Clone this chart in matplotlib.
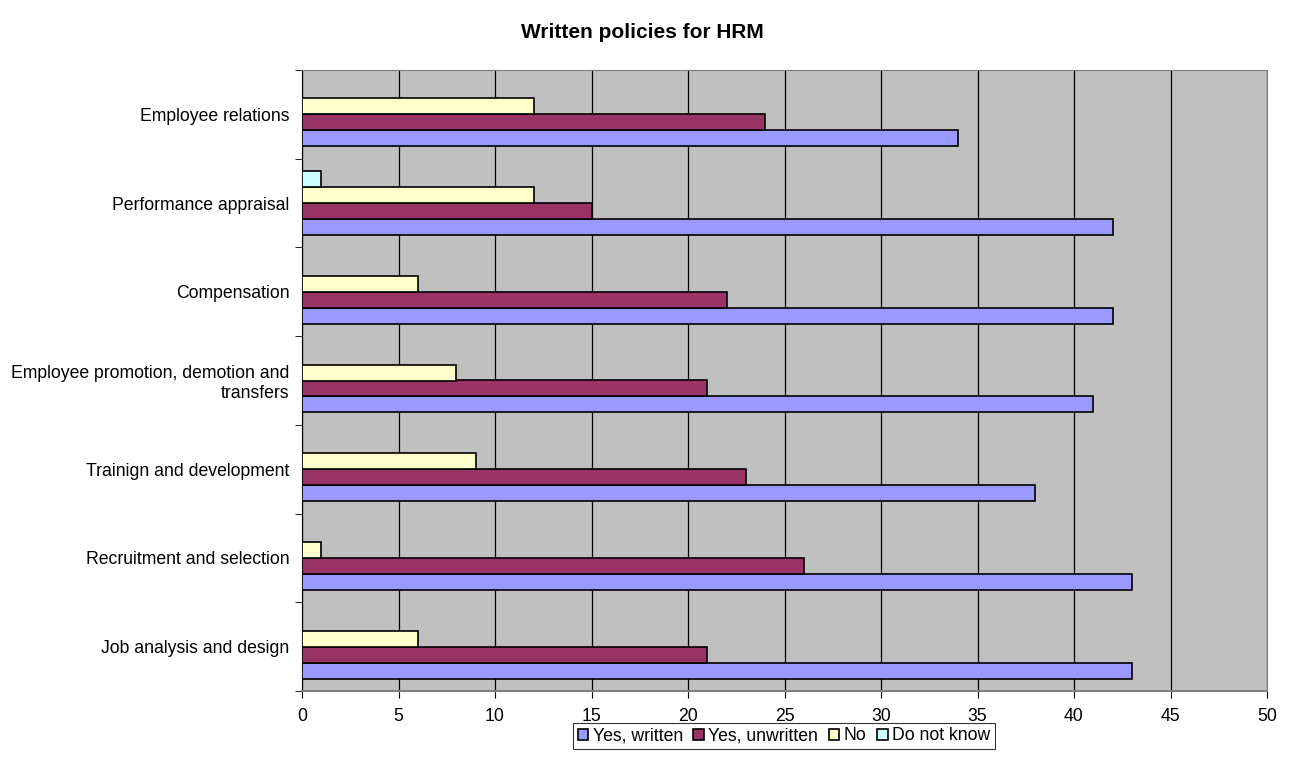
import numpy as np
import matplotlib
matplotlib.use('Agg')
import matplotlib.pyplot as plt

plt.rcParams['font.family'] = ['Liberation Sans', 'DejaVu Sans']

# categories listed bottom to top
categories = ['Job analysis and design', 'Recruitment and selection', 'Trainign and development',
              'Employee promotion, demotion and\ntransfers', 'Compensation',
              'Performance appraisal', 'Employee relations']
yes_written = [43, 43, 38, 41, 42, 42, 34]
yes_unwritten = [21, 26, 23, 21, 22, 15, 24]
no = [6, 1, 9, 8, 6, 12, 12]
do_not_know = [0, 0, 0, 0, 0, 1, 0]

series = [('Yes, written', yes_written, '#9999FF'),
          ('Yes, unwritten', yes_unwritten, '#993366'),
          ('No', no, '#FFFFCC'),
          ('Do not know', do_not_know, '#CCFFFF')]

fs = 12.7

fig = plt.figure(figsize=(12.9, 7.74), dpi=100)
ax = fig.add_axes([302 / 1290, 1 - 691 / 774, 965 / 1290, 621 / 774])
ax.set_facecolor('#C0C0C0')

y = np.arange(len(categories))
h = 0.18
for k, (name, vals, color) in enumerate(series):
    ax.barh(y + (k - 1.5) * h, vals, height=h, color=color, edgecolor='black',
            linewidth=1.2, label=name, zorder=3)

ax.set_xlim(0, 50)
ax.set_ylim(-0.5, len(categories) - 0.5)
ax.set_xticks(range(0, 51, 5))
ax.set_yticks(y)
ax.set_yticklabels(categories, fontsize=fs, ha='right')
ax.set_yticks(np.arange(-0.5, len(categories), 1), minor=True)
ax.tick_params(axis='y', which='major', length=0, pad=9)
ax.tick_params(axis='y', which='minor', length=5, direction='out')
ax.tick_params(axis='x', length=5, direction='out', labelsize=fs, pad=7)
ax.xaxis.grid(True, color='black', linewidth=0.9, zorder=0)
ax.set_axisbelow(True)

for s in ['top', 'right']:
    ax.spines[s].set_color('#808080')
ax.spines['left'].set_color('black')
ax.spines['bottom'].set_color('#808080')
ax.spines['bottom'].set_linewidth(1.5)

fig.text(642 / 1290, 1 - 32 / 774, 'Written policies for HRM', ha='center', va='center',
         fontsize=15, fontweight='bold')

leg = fig.legend(loc='center', bbox_to_anchor=(784 / 1290, 1 - 736 / 774), ncol=4,
                 fontsize=fs, frameon=True, fancybox=False, edgecolor='black',
                 handlelength=0.6, handleheight=0.6, handletextpad=0.25,
                 columnspacing=0.6, borderpad=0.25, borderaxespad=0)
leg.get_frame().set_linewidth(0.8)

fig.savefig('out.png', dpi=100)
